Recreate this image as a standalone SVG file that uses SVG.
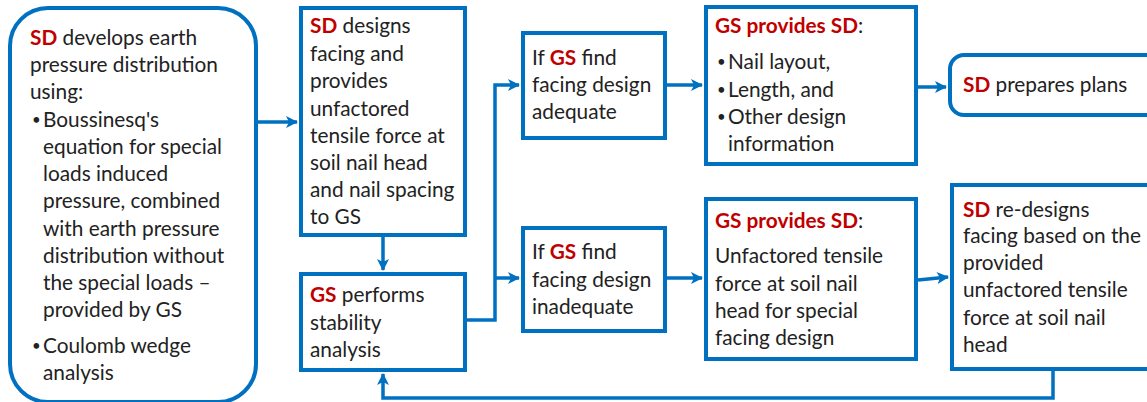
<svg xmlns="http://www.w3.org/2000/svg" width="1147" height="402" viewBox="0 0 1147 402">
<style>
.box{fill:#fff;stroke:#0070C0;stroke-width:4}
.t{font-family:Lato,"Open Sans","Liberation Sans",sans-serif;font-size:20.8px;fill:#222}
.b{font-family:Lato,"Open Sans","Liberation Sans",sans-serif;font-size:15px;fill:#222}
.r{fill:#C00000;font-weight:bold}
.c{fill:none;stroke:#0070C0;stroke-width:3.5}
</style>
<defs>
<marker id="ah" viewBox="0 0 12 12" refX="11" refY="6" markerWidth="12" markerHeight="12" markerUnits="userSpaceOnUse" orient="auto">
<path d="M0,0 L12,6 L0,12 L3,6 Z" fill="#0070C0"/>
</marker>
</defs>
<rect width="1147" height="402" fill="#fff"/>
<g id="connectors">
<path class="c" d="M257,122 H297" marker-end="url(#ah)"/>
<path class="c" d="M383,237 V270" marker-end="url(#ah)"/>
<path class="c" d="M467,320 H495 V85 H519" marker-end="url(#ah)"/>
<path class="c" d="M495,278 H519" marker-end="url(#ah)"/>
<path class="c" d="M667,85 H702" marker-end="url(#ah)"/>
<path class="c" d="M667,278 H702" marker-end="url(#ah)"/>
<path class="c" d="M918,87 H946" marker-end="url(#ah)"/>
<path class="c" d="M918,280 L948,277" marker-end="url(#ah)"/>
<path class="c" d="M1053,371 V398 H383 V374" marker-end="url(#ah)"/>
</g>
<g id="n1">
<rect class="box" x="10" y="8" width="246" height="394" rx="38"/>
<text class="t" x="30" y="45"><tspan class="r">SD</tspan> develops earth</text>
<text class="t" x="30" y="72">pressure distribution</text>
<text class="t" x="30" y="99">using:</text>
<text class="b" x="32" y="125">•</text>
<text class="t" x="43" y="127">Boussinesq's</text>
<text class="t" x="43" y="154">equation for special</text>
<text class="t" x="43" y="181">loads induced</text>
<text class="t" x="43" y="208">pressure, combined</text>
<text class="t" x="43" y="236">with earth pressure</text>
<text class="t" x="43" y="263">distribution without</text>
<text class="t" x="43" y="290">the special loads –</text>
<text class="t" x="43" y="317">provided by GS</text>
<text class="b" x="32" y="351">•</text>
<text class="t" x="43" y="353">Coulomb wedge</text>
<text class="t" x="43" y="380">analysis</text>
</g>
<g id="n2">
<rect class="box" x="301" y="8" width="164" height="227"/>
<text class="t" x="310" y="33"><tspan class="r">SD</tspan> designs</text>
<text class="t" x="310" y="61">facing and</text>
<text class="t" x="310" y="88">provides</text>
<text class="t" x="310" y="116">unfactored</text>
<text class="t" x="310" y="143">tensile force at</text>
<text class="t" x="310" y="170">soil nail head</text>
<text class="t" x="310" y="197">and nail spacing</text>
<text class="t" x="310" y="224">to GS</text>
</g>
<g id="n3">
<rect class="box" x="301" y="274" width="164" height="96"/>
<text class="t" x="310" y="302"><tspan class="r">GS</tspan> performs</text>
<text class="t" x="310" y="330">stability</text>
<text class="t" x="310" y="357">analysis</text>
</g>
<g id="n4">
<rect class="box" x="523" y="33" width="142" height="105"/>
<text class="t" x="532" y="65">If <tspan class="r">GS</tspan> find</text>
<text class="t" x="532" y="92">facing design</text>
<text class="t" x="532" y="119">adequate</text>
</g>
<g id="n5">
<rect class="box" x="523" y="228" width="142" height="103"/>
<text class="t" x="532" y="259">If <tspan class="r">GS</tspan> find</text>
<text class="t" x="532" y="287">facing design</text>
<text class="t" x="532" y="314">inadequate</text>
</g>
<g id="n6">
<rect class="box" x="706" y="7" width="210" height="157"/>
<text class="t" x="715" y="33"><tspan class="r">GS provides SD</tspan>:</text>
<text class="b" x="717" y="67">•</text>
<text class="t" x="728" y="69">Nail layout,</text>
<text class="b" x="717" y="95">•</text>
<text class="t" x="728" y="97">Length, and</text>
<text class="b" x="717" y="122">•</text>
<text class="t" x="728" y="124">Other design</text>
<text class="t" x="728" y="151">information</text>
</g>
<g id="n7">
<rect class="box" x="706" y="199" width="210" height="160"/>
<text class="t" x="715" y="228"><tspan class="r">GS provides SD</tspan>:</text>
<text class="t" x="715" y="263">Unfactored tensile</text>
<text class="t" x="715" y="291">force at soil nail</text>
<text class="t" x="715" y="318">head for special</text>
<text class="t" x="715" y="345">facing design</text>
</g>
<g id="n8">
<rect class="box" x="950" y="55" width="210" height="60" rx="14"/>
<text class="t" x="963" y="92"><tspan class="r">SD</tspan> prepares plans</text>
</g>
<g id="n9">
<rect class="box" x="952" y="185" width="210" height="184"/>
<text class="t" x="963" y="217"><tspan class="r">SD</tspan> re-designs</text>
<text class="t" x="963" y="243">facing based on the</text>
<text class="t" x="963" y="270">provided</text>
<text class="t" x="963" y="297">unfactored tensile</text>
<text class="t" x="963" y="325">force at soil nail</text>
<text class="t" x="963" y="352">head</text>
</g>
</svg>
